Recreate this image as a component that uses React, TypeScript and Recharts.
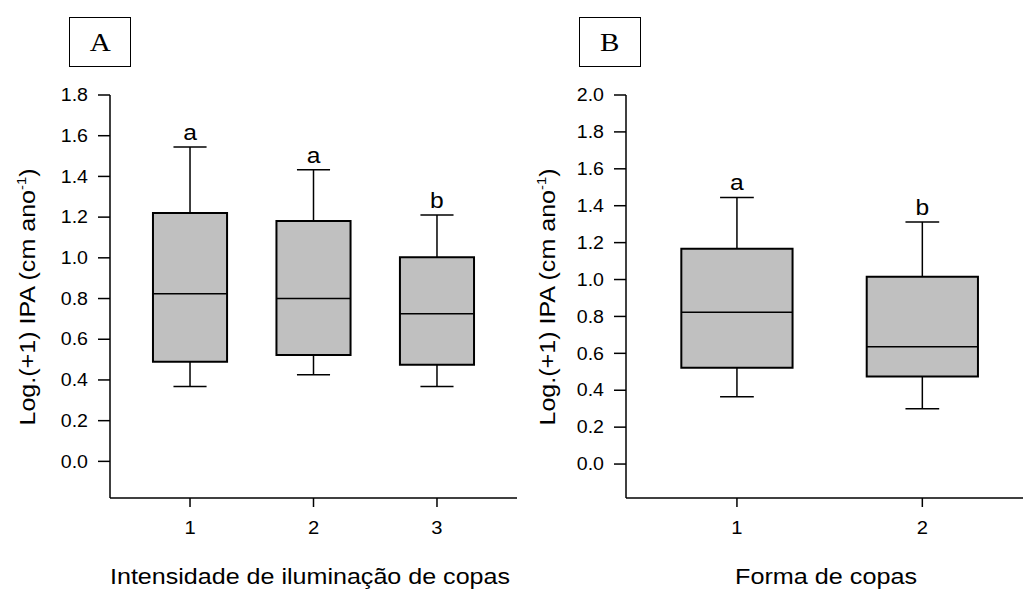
import React from 'react';
import {
  ComposedChart,
  XAxis,
  YAxis,
  Scatter,
  ReferenceArea,
  ReferenceLine,
  Label,
} from 'recharts';

// Panel A: Intensidade de iluminação de copas
const catsA = [1, 2, 3];
const minA = [0.368, 0.425, 0.368];
const q1A = [0.49, 0.523, 0.475];
const medA = [0.823, 0.8, 0.725];
const q3A = [1.22, 1.181, 1.003];
const maxA = [1.544, 1.433, 1.21];
const lettersA = ['a', 'a', 'b'];
const yTicksA = [0, 0.2, 0.4, 0.6, 0.8, 1.0, 1.2, 1.4, 1.6, 1.8];

// Panel B: Forma de copas
const catsB = [1, 2];
const minB = [0.365, 0.3];
const q1B = [0.522, 0.475];
const medB = [0.822, 0.636];
const q3B = [1.167, 1.015];
const maxB = [1.445, 1.312];
const lettersB = ['a', 'b'];
const yTicksB = [0, 0.2, 0.4, 0.6, 0.8, 1.0, 1.2, 1.4, 1.6, 1.8, 2.0];

const SANS = "Arial, 'Liberation Sans', sans-serif";
const SERIF = "'Times New Roman', 'Liberation Serif', serif";
const STRETCH = 1.12;

function stretchAt(x: number, y: number) {
  return `translate(${x} ${y}) scale(${STRETCH} 1) translate(${-x} ${-y})`;
}

function YTick(props: any) {
  const { x, y, payload } = props;
  return (
    <text
      x={x}
      y={y}
      dy="0.355em"
      textAnchor="end"
      fontSize={17.5}
      fontFamily={SANS}
      fill="#000"
      transform={stretchAt(x, y)}
    >
      {Number(payload.value).toFixed(1)}
    </text>
  );
}

function XTick(props: any) {
  const { x, y, payload } = props;
  return (
    <text
      x={x}
      y={y}
      dy="0.71em"
      textAnchor="middle"
      fontSize={18}
      fontFamily={SANS}
      fill="#000"
      transform={stretchAt(x, y)}
    >
      {String(payload.value)}
    </text>
  );
}

type PanelProps = {
  width: number;
  cats: number[];
  mins: number[];
  q1s: number[];
  meds: number[];
  q3s: number[];
  maxs: number[];
  letters: string[];
  yTicks: number[];
  yDomain: [number, number];
  xDomain: [number, number];
  yAxisWidth: number;
  rightMargin: number;
  capHalf: number;
  xTitle: string;
  xTitleX: number;
  xTitleLen: number;
};

function Panel(p: PanelProps) {
  const data = p.cats.map((c, i) => ({ x: c, y: p.maxs[i], letter: p.letters[i] }));
  const half = 0.3;
  return (
    <ComposedChart
      width={p.width}
      height={589}
      data={data}
      margin={{ top: 95, right: p.rightMargin, bottom: 51, left: 0 }}
    >
      <XAxis
        dataKey="x"
        type="number"
        domain={p.xDomain}
        ticks={p.cats}
        interval={0}
        allowDataOverflow
        height={40}
        tickSize={9}
        tickMargin={14}
        axisLine={{ stroke: '#000', strokeWidth: 1.5 }}
        tickLine={{ stroke: '#000', strokeWidth: 1.5 }}
        tick={<XTick />}
      >
        <Label
          content={() => (
            <text
              x={p.xTitleX}
              y={584}
              textAnchor="middle"
              fontSize={22}
              fontFamily={SANS}
              fill="#000"
              textLength={p.xTitleLen}
              lengthAdjust="spacingAndGlyphs"
            >
              {p.xTitle}
            </text>
          )}
        />
      </XAxis>
      <YAxis
        dataKey="y"
        type="number"
        domain={p.yDomain}
        ticks={p.yTicks}
        interval={0}
        allowDataOverflow
        width={p.yAxisWidth}
        tickSize={12}
        tickMargin={10}
        axisLine={{ stroke: '#000', strokeWidth: 1.5 }}
        tickLine={{ stroke: '#000', strokeWidth: 1.5 }}
        tick={<YTick />}
      >
        <Label
          content={() => (
            <text
              x={35}
              y={297}
              transform="rotate(-90 35 297)"
              textAnchor="middle"
              fontSize={22}
              fontFamily={SANS}
              fill="#000"
              textLength={257}
              lengthAdjust="spacingAndGlyphs"
            >
              Log.(+1) IPA (cm ano
              <tspan fontSize={13} dy={-9}>-1</tspan>
              <tspan dy={9}>)</tspan>
            </text>
          )}
        />
      </YAxis>
      {p.cats.map((c, i) => (
        <ReferenceLine
          key={`wu${i}`}
          segment={[{ x: c, y: p.q3s[i] }, { x: c, y: p.maxs[i] }]}
          stroke="#000"
          strokeWidth={1.5}
          ifOverflow="visible"
        />
      ))}
      {p.cats.map((c, i) => (
        <ReferenceLine
          key={`wl${i}`}
          segment={[{ x: c, y: p.q1s[i] }, { x: c, y: p.mins[i] }]}
          stroke="#000"
          strokeWidth={1.5}
          ifOverflow="visible"
        />
      ))}
      {p.cats.map((c, i) => (
        <ReferenceLine
          key={`cu${i}`}
          segment={[{ x: c - p.capHalf, y: p.maxs[i] }, { x: c + p.capHalf, y: p.maxs[i] }]}
          stroke="#000"
          strokeWidth={1.5}
          ifOverflow="visible"
        />
      ))}
      {p.cats.map((c, i) => (
        <ReferenceLine
          key={`cl${i}`}
          segment={[{ x: c - p.capHalf, y: p.mins[i] }, { x: c + p.capHalf, y: p.mins[i] }]}
          stroke="#000"
          strokeWidth={1.5}
          ifOverflow="visible"
        />
      ))}
      {p.cats.map((c, i) => (
        <ReferenceArea
          key={`box${i}`}
          x1={c - half}
          x2={c + half}
          y1={p.q1s[i]}
          y2={p.q3s[i]}
          fill="#c0c0c0"
          fillOpacity={1}
          stroke="#000"
          strokeWidth={2}
          ifOverflow="visible"
        />
      ))}
      {p.cats.map((c, i) => (
        <ReferenceLine
          key={`med${i}`}
          segment={[{ x: c - half, y: p.meds[i] }, { x: c + half, y: p.meds[i] }]}
          stroke="#000"
          strokeWidth={1.5}
          ifOverflow="visible"
        />
      ))}
      <Scatter
        dataKey="y"
        isAnimationActive={false}
        shape={(sp: any) => (
          <text
            x={sp.cx}
            y={sp.cy - 7}
            textAnchor="middle"
            fontSize={22}
            fontFamily={SANS}
            fill="#000"
            transform={stretchAt(sp.cx, sp.cy - 7)}
          >
            {sp.payload.letter}
          </text>
        )}
      />
    </ComposedChart>
  );
}

function PanelTag({ left, text }: { left: number; text: string }) {
  return (
    <div
      style={{
        position: 'absolute',
        left,
        top: 17,
        width: 62,
        height: 50,
        boxSizing: 'border-box',
        border: '1.5px solid #000',
        fontFamily: SERIF,
        fontSize: 26,
        lineHeight: '50px',
        textAlign: 'center',
        color: '#000',
        background: '#fff',
      }}
    >
      <span style={{ display: 'inline-block', transform: `scaleX(${STRETCH})` }}>{text}</span>
    </div>
  );
}

export default function App() {
  return (
    <div
      style={{
        position: 'absolute',
        left: 0,
        top: 0,
        width: 1023,
        height: 589,
        background: '#fff',
        overflow: 'hidden',
      }}
    >
      <div style={{ position: 'absolute', left: 0, top: 0 }}>
        <Panel
          width={520}
          cats={catsA}
          mins={minA}
          q1s={q1A}
          meds={medA}
          q3s={q3A}
          maxs={maxA}
          letters={lettersA}
          yTicks={yTicksA}
          yDomain={[-0.18, 1.8]}
          xDomain={[0.352, 3.648]}
          yAxisWidth={110}
          rightMargin={3}
          capHalf={0.134}
          xTitle="Intensidade de iluminação de copas"
          xTitleX={310}
          xTitleLen={400}
        />
      </div>
      <div style={{ position: 'absolute', left: 520, top: 0 }}>
        <Panel
          width={503}
          cats={catsB}
          mins={minB}
          q1s={q1B}
          meds={medB}
          q3s={q3B}
          maxs={maxB}
          letters={lettersB}
          yTicks={yTicksB}
          yDomain={[-0.184, 2.0]}
          xDomain={[0.4016, 2.543]}
          yAxisWidth={106}
          rightMargin={0}
          capHalf={0.091}
          xTitle="Forma de copas"
          xTitleX={306}
          xTitleLen={182}
        />
      </div>
      <PanelTag left={69} text="A" />
      <PanelTag left={579} text="B" />
    </div>
  );
}
